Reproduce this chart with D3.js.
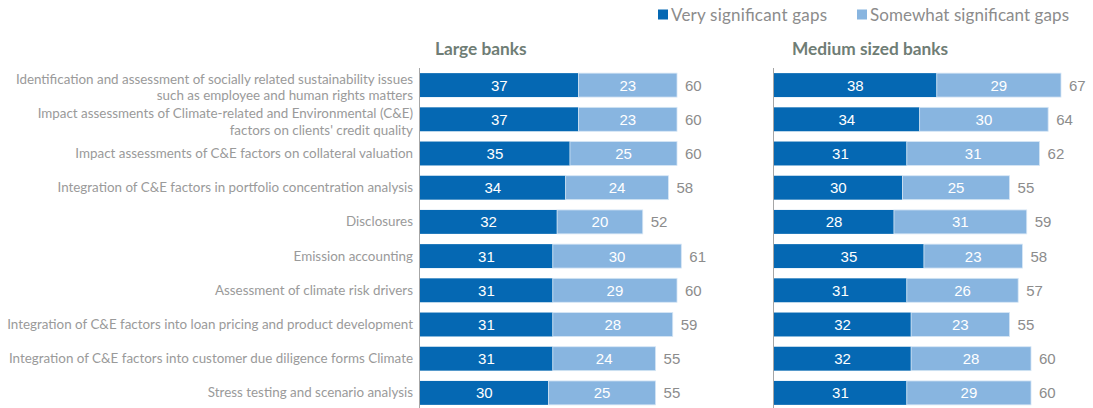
<!DOCTYPE html>
<html>
<head>
<meta charset="utf-8">
<script src="https://cdn.jsdelivr.net/npm/d3@7"></script>
<style>
  html, body { margin: 0; padding: 0; background: #fff; }
  svg { display: block; }
</style>
</head>
<body>
<svg id="chart" width="1093" height="408"></svg>
<script>
// Survey categories (top to bottom); "\n" splits long labels over two lines
const categories = [
  "Identification and assessment of socially related sustainability issues\nsuch as employee and human rights matters",
  "Impact assessments of Climate-related and Environmental (C&E)\nfactors on clients' credit quality",
  "Impact assessments of C&E factors on collateral valuation",
  "Integration of C&E factors in portfolio concentration analysis",
  "Disclosures",
  "Emission accounting",
  "Assessment of climate risk drivers",
  "Integration of C&E factors into loan pricing and product development",
  "Integration of C&E factors into customer due diligence forms Climate",
  "Stress testing and scenario analysis"
];

const seriesNames = ["Very significant gaps", "Somewhat significant gaps"];
const panelTitles = ["Large banks", "Medium sized banks"];

// Large banks
const largeVery     = [37, 37, 35, 34, 32, 31, 31, 31, 31, 30];
const largeSomewhat = [23, 23, 25, 24, 20, 30, 29, 28, 24, 25];
const largeTotal    = [60, 60, 60, 58, 52, 61, 60, 59, 55, 55];

// Medium sized banks
const mediumVery     = [38, 34, 31, 30, 28, 35, 31, 32, 32, 31];
const mediumSomewhat = [29, 30, 31, 25, 31, 23, 26, 23, 28, 29];
const mediumTotal    = [67, 64, 62, 55, 59, 58, 57, 55, 60, 60];

const colors = ["#0568b3", "#88b5e0"];
const greyText = "#8c8c8c";

const svg = d3.select("#chart");

const y = d3.scaleBand()
  .domain(categories)
  .range([68, 410])
  .paddingInner(0.3)
  .paddingOuter(0.15);

const x = d3.scaleLinear().domain([0, 67]).range([0, 287]);

// Category labels
const labelG = svg.append("g").attr("font-family", "Lato, 'Open Sans', sans-serif")
  .attr("font-size", 13.4).attr("fill", "#9a9a9a");
categories.forEach(c => {
  const lines = c.split("\n");
  const cy = y(c) + y.bandwidth() / 2;
  const t = labelG.append("text")
    .attr("text-anchor", "end")
    .attr("x", 413);
  const lh = 16.7;
  const startY = lines.length > 1 ? cy - lh / 2 + 7 : cy + 4.5;
  lines.forEach((ln, i) => {
    t.append("tspan").attr("x", 413).attr("y", startY + i * lh).text(ln);
  });
});

function panel(x0, titleDx, title, very, somewhat, total) {
  const g = svg.append("g").attr("transform", `translate(${x0},0)`);

  g.append("text")
    .attr("x", titleDx).attr("y", 55)
    .attr("font-family", "Lato, sans-serif")
    .attr("font-weight", "bold")
    .attr("font-size", 17.3)
    .attr("fill", "#6f7d75")
    .text(title);

  categories.forEach((c, i) => {
    const by = y(c), bh = y.bandwidth();
    g.append("rect")
      .attr("x", x(0)).attr("y", by)
      .attr("width", x(very[i]) - x(0)).attr("height", bh)
      .attr("fill", colors[0]);
    g.append("rect")
      .attr("x", x(very[i])).attr("y", by)
      .attr("width", x(very[i] + somewhat[i]) - x(very[i])).attr("height", bh)
      .attr("fill", colors[1])
      .attr("stroke", "#d6e6f5").attr("stroke-width", 0.8);

    const ty = by + bh / 2 + 5.5;
    g.append("text")
      .attr("x", x(very[i] / 2)).attr("y", ty)
      .attr("text-anchor", "middle")
      .attr("font-family", "'Liberation Sans', Arial, sans-serif")
      .attr("font-size", 15).attr("fill", "#fff")
      .text(very[i]);
    g.append("text")
      .attr("x", x(very[i] + somewhat[i] / 2)).attr("y", ty)
      .attr("text-anchor", "middle")
      .attr("font-family", "'Liberation Sans', Arial, sans-serif")
      .attr("font-size", 15).attr("fill", "#fff")
      .text(somewhat[i]);
    g.append("text")
      .attr("x", x(total[i]) + 8).attr("y", ty)
      .attr("font-family", "'Liberation Sans', Arial, sans-serif")
      .attr("font-size", 15).attr("fill", greyText)
      .text(total[i]);
  });

  // vertical baseline
  g.append("line")
    .attr("x1", x(0) - 0.5).attr("x2", x(0) - 0.5)
    .attr("y1", 68).attr("y2", 408)
    .attr("stroke", "#a6a6a6").attr("stroke-width", 1);
}

panel(420, 15, panelTitles[0], largeVery, largeSomewhat, largeTotal);
panel(774, 18, panelTitles[1], mediumVery, mediumSomewhat, mediumTotal);

// Legend
const legend = svg.append("g").attr("font-family", "Lato, sans-serif")
  .attr("font-size", 17).attr("fill", greyText);
const legendX = [658, 857];
const legendLen = [156, 199];
seriesNames.forEach((s, i) => {
  legend.append("rect")
    .attr("x", legendX[i]).attr("y", 9.5)
    .attr("width", 10).attr("height", 10)
    .attr("fill", colors[i]);
  legend.append("text")
    .attr("x", legendX[i] + 13).attr("y", 20.5)
    .attr("textLength", legendLen[i])
    .attr("lengthAdjust", "spacing")
    .text(s);
});
</script>
</body>
</html>
